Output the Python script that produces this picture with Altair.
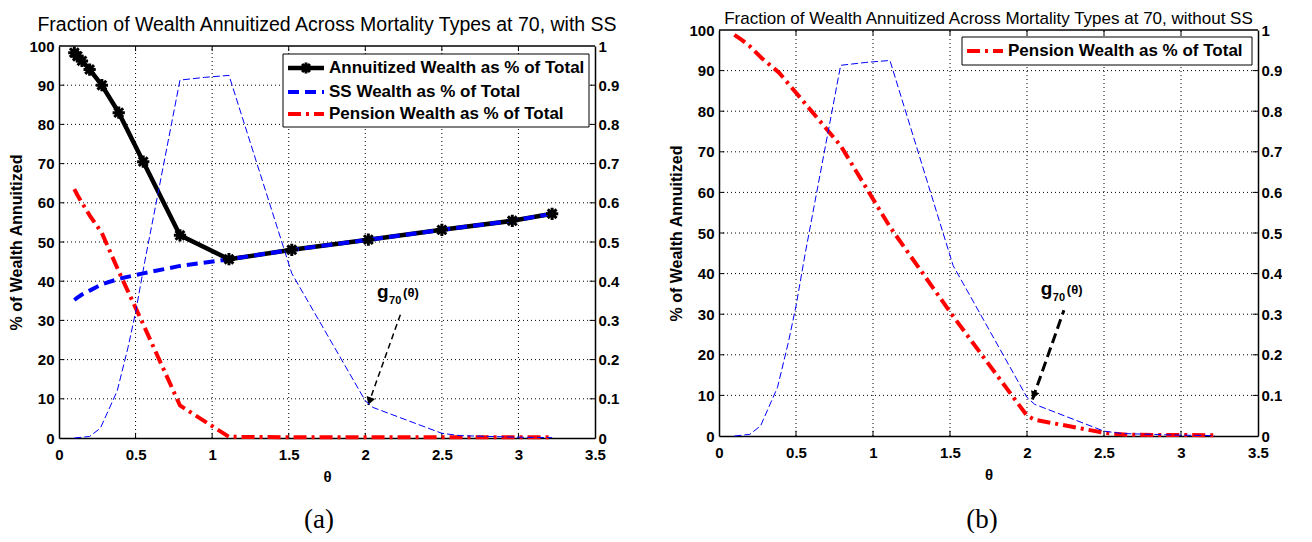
import altair as alt
import pandas as pd

# ---------------- data ----------------
theta = [0.10, 0.12, 0.15, 0.20, 0.28, 0.39, 0.55, 0.79, 1.11, 1.52, 2.02, 2.50, 2.96, 3.22]
annuitized_pct = [98.3, 97.4, 96.2, 94.0, 90.0, 83.0, 70.5, 51.7, 45.6, 48.0, 50.6, 53.1, 55.4, 57.2]
ss_pct = [35.2, 35.8, 36.6, 37.6, 39.2, 40.6, 42.0, 43.9, 45.6, 48.0, 50.6, 53.1, 55.4, 57.2]
pension_ss_pct = [63.5, 62.0, 60.0, 56.8, 52.3, 42.5, 29.0, 8.3, 0.3, 0.2, 0.2, 0.2, 0.2, 0.2]

theta_b = [0.10, 0.15, 0.20, 0.28, 0.39, 0.55, 0.79, 1.11, 1.52, 2.00, 2.05, 2.50, 2.65, 3.22]
pension_noss_pct = [98.8, 97.5, 96.0, 93.0, 89.5, 82.3, 71.5, 51.5, 29.5, 5.0, 4.0, 0.8, 0.3, 0.2]

theta_g = [0.10, 0.20, 0.27, 0.38, 0.45, 0.50, 0.56, 0.79, 0.95, 1.11, 1.52, 2.00, 2.05, 2.50, 2.62, 3.00, 3.22]
g70 = [0.000, 0.004, 0.025, 0.12, 0.23, 0.32, 0.45, 0.913, 0.920, 0.925, 0.42, 0.095, 0.078, 0.012, 0.006, 0.002, 0.001]

x_ticks = [0, 0.5, 1, 1.5, 2, 2.5, 3, 3.5]
y_ticks = [0, 10, 20, 30, 40, 50, 60, 70, 80, 90, 100]
g_ticks = [0, 0.1, 0.2, 0.3, 0.4, 0.5, 0.6, 0.7, 0.8, 0.9, 1.0]

titles = ["Fraction of Wealth Annuitized Across Mortality Types at 70, with SS",
          "Fraction of Wealth Annuitized Across Mortality Types at 70, without SS"]
legend_a = ["Annuitized Wealth as % of Total", "SS Wealth as % of Total", "Pension Wealth as % of Total"]
legend_b = ["Pension Wealth as % of Total"]
captions = ["(a)", "(b)"]
annot_parts = ["g", "70", "(θ)"]

arrow_a = {"x": [2.233, 2.018], "y": [31.9, 8.4]}
arrow_b = {"x": [2.24, 2.035], "y": [31.0, 9.0]}
label_a = {"x": [2.077], "y": [35.7]}
label_b = {"x": [2.09], "y": [34.7]}

# ---------------- styling ----------------
FONT = "Liberation Sans"
SERIF = "Liberation Serif"
BLUE = "#0000ff"
RED = "#ff0000"
ASTER = "M-1,0L1,0M0,-1L0,1M-0.72,-0.72L0.72,0.72M-0.72,0.72L0.72,-0.72"

XS = alt.Scale(domain=[0, 3.5], nice=False, zero=False)
XAXIS = alt.Axis(values=x_ticks, format="~g", title="θ", titleFontSize=15,
                 labelPadding=9, titlePadding=7)
YAXIS = alt.Axis(values=y_ticks, format="d", title="% of Wealth Annuitized",
                 labelPadding=5, titlePadding=4)
GAXIS = alt.Axis(orient="right", values=g_ticks, format=".1~f", title=None, labelPadding=3)


def build(width, yr, lines, markers_df, legend_items, box, title, title_y, title_size,
          caption, cap_xy, arrow, arrow_w, arrow_dash, label):
    ysc = alt.Scale(domain=[0, 100], range=yr, nice=False, zero=False)

    def X(f):
        return alt.X(f"{f}:Q", scale=XS, axis=XAXIS)

    def Y(f):
        return alt.Y(f"{f}:Q", scale=ysc, axis=YAXIS)

    layers = []
    # dotted grid
    gx = pd.DataFrame({"x": x_ticks[1:-1], "y": 0, "y2": 100})
    gy = pd.DataFrame({"y": y_ticks[1:-1], "x": 0, "x2": 3.5})
    layers.append(alt.Chart(gx).mark_rule(color="black", strokeWidth=1, strokeDash=[1, 3])
                  .encode(x=X("x"), y=Y("y"), y2=alt.Y2("y2")))
    layers.append(alt.Chart(gy).mark_rule(color="black", strokeWidth=1, strokeDash=[1, 3])
                  .encode(x=X("x"), x2=alt.X2("x2"), y=Y("y")))
    # top border and inward ticks
    top = pd.DataFrame({"x": [0], "x2": [3.5], "y": [100]})
    layers.append(alt.Chart(top).mark_rule(color="black", strokeWidth=1.5)
                  .encode(x=X("x"), x2=alt.X2("x2"), y=Y("y")))
    tb = pd.DataFrame({"x": x_ticks[1:-1] * 2,
                       "y": [0] * 6 + [100] * 6, "y2": [1.3] * 6 + [98.7] * 6})
    layers.append(alt.Chart(tb).mark_rule(color="black", strokeWidth=1)
                  .encode(x=X("x"), y=Y("y"), y2=alt.Y2("y2")))
    tl = pd.DataFrame({"y": y_ticks[1:-1] * 2,
                       "x": [0] * 9 + [3.5] * 9, "x2": [0.035] * 9 + [3.465] * 9})
    layers.append(alt.Chart(tl).mark_rule(color="black", strokeWidth=1)
                  .encode(x=X("x"), x2=alt.X2("x2"), y=Y("y")))

    # data lines
    for df, color, w, dash in lines:
        kw = dict(color=color, strokeWidth=w)
        if dash:
            kw["strokeDash"] = dash
        layers.append(alt.Chart(df).mark_line(**kw).encode(x=X("x"), y=Y("y")))
    if markers_df is not None:
        layers.append(alt.Chart(markers_df).mark_point(shape=ASTER, filled=False, color="black",
                                                       strokeWidth=3, size=150, opacity=1)
                      .encode(x=X("x"), y=Y("y")))

    # annotation g70(theta) with arrow
    adf = pd.DataFrame(arrow)
    layers.append(alt.Chart(adf).mark_line(color="black", strokeWidth=arrow_w, strokeDash=arrow_dash)
                  .encode(x=X("x"), y=Y("y")))
    layers.append(alt.Chart(adf.tail(1)).mark_point(shape="triangle-up", filled=True, color="black",
                                                    angle=200, size=80, opacity=1, yOffset=-4, xOffset=1.5)
                  .encode(x=X("x"), y=Y("y")))
    ldf = pd.DataFrame(label)
    layers.append(alt.Chart(ldf).mark_text(align="left", baseline="alphabetic", font=FONT,
                                           fontSize=19, fontWeight="bold")
                  .encode(x=X("x"), y=Y("y"), text=alt.value(annot_parts[0])))
    layers.append(alt.Chart(ldf).mark_text(align="left", baseline="alphabetic", font=FONT,
                                           fontSize=11, fontWeight="bold", dx=12, dy=6)
                  .encode(x=X("x"), y=Y("y"), text=alt.value(annot_parts[1])))
    layers.append(alt.Chart(ldf).mark_text(align="left", baseline="alphabetic", font=FONT,
                                           fontSize=13, fontWeight="bold", dx=26, dy=-1)
                  .encode(x=X("x"), y=Y("y"), text=alt.value(annot_parts[2])))

    # manual legend
    one = pd.DataFrame({"k": [0]})
    bx0, bx1, by0, by1 = box
    layers.append(alt.Chart(one).mark_rect(fill="white", stroke="black", strokeWidth=1)
                  .encode(x=alt.value(bx0), x2=alt.value(bx1), y=alt.value(by0), y2=alt.value(by1)))
    for label_text, color, w, dash, ypix, marker in legend_items:
        kw = dict(color=color, strokeWidth=w)
        if dash:
            kw["strokeDash"] = dash
        layers.append(alt.Chart(one).mark_rule(**kw)
                      .encode(x=alt.value(bx0 + 5), x2=alt.value(bx0 + 41), y=alt.value(ypix)))
        if marker:
            layers.append(alt.Chart(one).mark_point(shape=ASTER, filled=False, color="black",
                                                    strokeWidth=3, size=120, opacity=1)
                          .encode(x=alt.value(bx0 + 23), y=alt.value(ypix)))
        layers.append(alt.Chart(one).mark_text(align="left", baseline="middle", font=FONT,
                                               fontSize=17, fontWeight="bold")
                      .encode(x=alt.value(bx0 + 46), y=alt.value(ypix), text=alt.value(label_text)))

    # title and caption
    layers.append(alt.Chart(one).mark_text(align="center", baseline="alphabetic", font=FONT,
                                           fontSize=title_size)
                  .encode(x=alt.value(width / 2), y=alt.value(title_y), text=alt.value(title)))
    layers.append(alt.Chart(one).mark_text(align="center", baseline="middle", font=SERIF,
                                           fontSize=27)
                  .encode(x=alt.value(cap_xy[0]), y=alt.value(cap_xy[1]), text=alt.value(caption)))

    left_group = alt.layer(*layers)
    gdf = pd.DataFrame({"x": theta_g, "g": g70})
    dens = alt.Chart(gdf).mark_line(color=BLUE, strokeWidth=1, strokeDash=[7, 3]).encode(
        x=X("x"),
        y=alt.Y("g:Q", scale=alt.Scale(domain=[0, 1], range=yr, nice=False, zero=False), axis=GAXIS))
    return alt.layer(left_group, dens).resolve_scale(y="independent").properties(
        width=width, height=yr[0])


df_ann = pd.DataFrame({"x": theta, "y": annuitized_pct})
df_ss = pd.DataFrame({"x": theta, "y": ss_pct})
df_pa = pd.DataFrame({"x": theta, "y": pension_ss_pct})
df_pb = pd.DataFrame({"x": theta_b, "y": pension_noss_pct})

DASH_SS = [11, 6]
DASH_PEN = [13, 5, 3, 5]

left = build(
    536, [408, 16],
    [(df_ann, "black", 4.5, None), (df_ss, BLUE, 4, DASH_SS), (df_pa, RED, 4, DASH_PEN)],
    df_ann,
    [(legend_a[0], "black", 4.5, None, 38, True),
     (legend_a[1], BLUE, 4, DASH_SS, 62, False),
     (legend_a[2], RED, 4, DASH_PEN, 84, False)],
    (224, 530, 24, 97), titles[0], 1, 19.5, captions[0], (260, 490),
    arrow_a, 1.5, [6, 4], label_a)

right = build(
    539, [406, 0],
    [(df_pb, RED, 4, DASH_PEN)],
    None,
    [(legend_b[0], RED, 4, DASH_PEN, 21, False)],
    (243, 533, 7, 35), titles[1], -6, 17, captions[1], (263, 490),
    arrow_b, 3, [10, 5], label_b)

chart = alt.hconcat(left, right, spacing=49).properties(
    padding={"left": 0, "top": 2, "right": 0, "bottom": 0}
).configure_view(stroke=None).configure_axis(
    labelFont=FONT, labelFontSize=15, labelFontWeight="bold", labelColor="black",
    titleFont=FONT, titleFontSize=16, titleFontWeight="bold", titleColor="black",
    domainColor="black", domainWidth=1.5, ticks=False, grid=False,
    labelFlush=False, labelOverlap=False)

chart.save("out.html", embed_options={"renderer": "svg", "actions": False})
